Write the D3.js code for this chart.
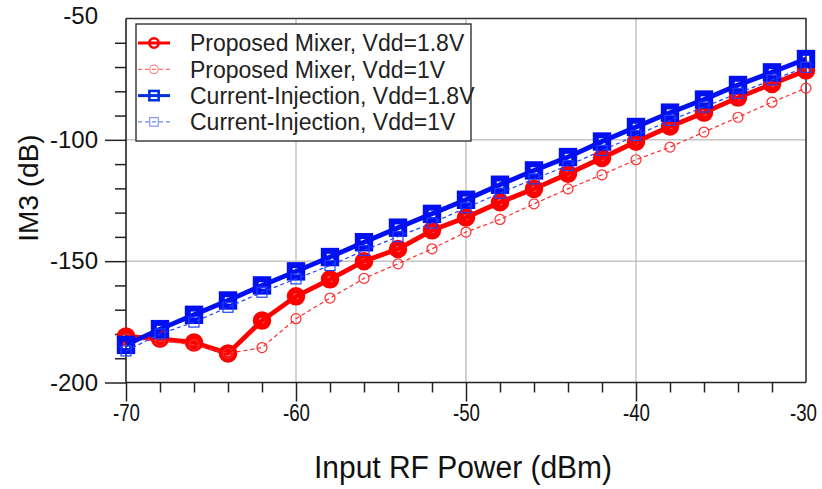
<!DOCTYPE html>
<html>
<head>
<meta charset="utf-8">
<script src="https://cdn.jsdelivr.net/npm/d3@7/dist/d3.min.js"></script>
<style>
  html, body { margin: 0; padding: 0; background: #fff; }
  svg { display: block; font-family: Arial, "Liberation Sans", sans-serif; }
</style>
</head>
<body>
<svg id="chart" width="822" height="489"></svg>
<script>
// Input RF power sweep (dBm)
const inputPower = [-70, -68, -66, -64, -62, -60, -58, -56, -54, -52, -50,
                    -48, -46, -44, -42, -40, -38, -36, -34, -32, -30];

// IM3 (dB) for each configuration
const proposed18 = [-181, -182, -183.5, -188, -174.5, -164.5, -157.5, -150, -145, -137.3, -132,
                    -125.7, -120.2, -114, -107.5, -100.8, -94.5, -88.8, -82.6, -77, -71.4];
const proposed1  = [-182, -182.7, -184.5, -188, -185.6, -173.7, -165.2, -157.1, -151.1, -144.9, -138,
                    -132.8, -126.4, -120.2, -114.4, -108.2, -103, -96.8, -90.7, -84.5, -78.7];
const ci18       = [-184.5, -178, -172.1, -166.2, -160, -154.2, -148.3, -142.2, -136.2, -130.5, -124.7,
                    -118.5, -112.6, -107.1, -100.7, -94.7, -88.8, -83.4, -77.4, -72.2, -66.7];
const ci1        = [-187, -180, -175.1, -169, -162.8, -157.3, -151.8, -145.6, -139.9, -134.3, -128,
                    -122, -116.1, -110.6, -104.4, -98.2, -92, -86.5, -80.8, -75.3, -70.1];

const seriesNames = ["Proposed Mixer, Vdd=1.8V", "Proposed Mixer, Vdd=1V",
                     "Current-Injection, Vdd=1.8V", "Current-Injection, Vdd=1V"];

// Axis ticks
const xMajorTicks = [-70, -60, -50, -40, -30];
const xMinorTicks = [-68, -66, -64, -62, -58, -56, -54, -52, -48, -46, -44, -42, -38, -36, -34, -32];
const yMajorTicks = [-200, -150, -100, -50];
const yMinorTicks = [-190, -180, -170, -160, -140, -130, -120, -110, -90, -80, -70, -60];
const xGrid = [-60, -50, -40];
const yGrid = [-150, -100];

const svg = d3.select("#chart");
const plotLeft = 126, plotRight = 806, plotTop = 18.5, plotBottom = 382.5;

const x = d3.scaleLinear().domain([-70, -30]).range([plotLeft, plotRight]);
const y = d3.scaleLinear().domain([-200, -50]).range([plotBottom, plotTop]);

// plain hyphen-minus tick labels
const fmt = d => String(d);

// grid lines
svg.append("g").selectAll("line").data(xGrid).join("line")
  .attr("x1", d => x(d)).attr("x2", d => x(d))
  .attr("y1", plotTop).attr("y2", plotBottom)
  .attr("stroke", "#c4c4c4").attr("stroke-width", 1.5);
svg.append("g").selectAll("line").data(yGrid).join("line")
  .attr("x1", plotLeft).attr("x2", plotRight)
  .attr("y1", d => y(d)).attr("y2", d => y(d))
  .attr("stroke", "#c4c4c4").attr("stroke-width", 1.5);

// frame (top and right)
svg.append("path")
  .attr("d", `M${plotLeft},${plotTop}H${plotRight}V${plotBottom}`)
  .attr("fill", "none").attr("stroke", "#333").attr("stroke-width", 1.6);

// axes
function styleAxis(g) {
  g.select(".domain").remove();
  g.selectAll(".tick line").attr("stroke", "#222").attr("stroke-width", 1.5);
  g.selectAll(".tick text").attr("fill", "#111");
}

const xAxisMajor = svg.append("g").attr("transform", `translate(0,${plotBottom})`)
  .call(d3.axisBottom(x).tickValues(xMajorTicks).tickSize(19).tickPadding(3)
    .tickFormat(fmt));
styleAxis(xAxisMajor);
xAxisMajor.selectAll(".tick text").attr("font-size", 23).attr("dy", "0.72em")
  .attr("textLength", 27).attr("lengthAdjust", "spacingAndGlyphs");
xAxisMajor.selectAll(".tick").filter(d => d === -30).select("line").remove();
xAxisMajor.selectAll(".tick").filter(d => d === -30).select("text").attr("x", -3);

const xAxisMinor = svg.append("g").attr("transform", `translate(0,${plotBottom})`)
  .call(d3.axisBottom(x).tickValues(xMinorTicks).tickSize(10).tickFormat(""));
styleAxis(xAxisMinor);

const yAxisMajor = svg.append("g").attr("transform", `translate(${plotLeft},0)`)
  .call(d3.axisLeft(y).tickValues(yMajorTicks).tickSize(21).tickPadding(7)
    .tickFormat(fmt));
styleAxis(yAxisMajor);
yAxisMajor.selectAll(".tick text").attr("font-size", 24);
yAxisMajor.selectAll(".tick").filter(d => d === -50).select("line").remove();
yAxisMajor.selectAll(".tick").filter(d => d === -50).select("text").attr("dy", "0.2em");

const yAxisMinor = svg.append("g").attr("transform", `translate(${plotLeft},0)`)
  .call(d3.axisLeft(y).tickValues(yMinorTicks).tickSize(11).tickFormat(""));
styleAxis(yAxisMinor);

// axis lines (left and bottom)
svg.append("line").attr("x1", plotLeft).attr("x2", plotRight).attr("y1", plotBottom).attr("y2", plotBottom)
  .attr("stroke", "#222").attr("stroke-width", 1.6);
svg.append("line").attr("x1", plotLeft).attr("x2", plotLeft).attr("y1", plotTop).attr("y2", plotBottom)
  .attr("stroke", "#222").attr("stroke-width", 1.6);

// axis titles
svg.append("text").attr("x", 463).attr("y", 478)
  .attr("text-anchor", "middle").attr("font-size", 31).attr("fill", "#111")
  .attr("textLength", 298).attr("lengthAdjust", "spacingAndGlyphs")
  .text("Input RF Power (dBm)");
svg.append("text").attr("transform", "translate(38,188) rotate(-90)")
  .attr("text-anchor", "middle").attr("font-size", 28).attr("fill", "#111")
  .text("IM3 (dB)");

// series definitions
const series = [
  { name: seriesNames[0], values: proposed18, color: "#ff0000", width: 4.8, dash: null, marker: "circle", r: 6, mw: 6.5 },
  { name: seriesNames[1], values: proposed1,  color: "#ff2a2a", width: 1.2, dash: "4,3", marker: "circle", r: 5, mw: 1.2 },
  { name: seriesNames[2], values: ci18,       color: "#0010f0", width: 4.8, dash: null, marker: "square", r: 6.2, mw: 6 },
  { name: seriesNames[3], values: ci1,        color: "#2040ff", width: 1.2, dash: "4,3", marker: "square", r: 5, mw: 1.2 }
];

const line = d3.line().x(d => x(d[0])).y(d => y(d[1]));

function drawMarker(g, cx, cy, s, scale) {
  const r = s.r * scale;
  if (s.marker === "circle") {
    g.append("circle").attr("cx", cx).attr("cy", cy).attr("r", r)
      .attr("fill", "none").attr("stroke", s.color).attr("stroke-width", s.mw * scale);
  } else {
    g.append("rect").attr("x", cx - r).attr("y", cy - r).attr("width", 2 * r).attr("height", 2 * r)
      .attr("fill", "none").attr("stroke", s.color).attr("stroke-width", s.mw * scale);
  }
}

const plot = svg.append("g");
series.forEach(s => {
  const pts = inputPower.map((p, i) => [p, s.values[i]]);
  const g = plot.append("g");
  g.append("path").datum(pts).attr("d", line)
    .attr("fill", "none").attr("stroke", s.color).attr("stroke-width", s.width)
    .attr("stroke-linejoin", "round")
    .attr("stroke-dasharray", s.dash);
  pts.forEach(p => drawMarker(g, x(p[0]), y(p[1]), s, 1));
});

// legend
const legend = svg.append("g");
legend.append("rect").attr("x", 136).attr("y", 24).attr("width", 335).attr("height", 117)
  .attr("fill", "#fff").attr("stroke", "#333").attr("stroke-width", 1.4);
const legendColors = ["#ff0000", "#ff7070", "#0030e0", "#6a86f0"];
series.forEach((s, i) => {
  const cy = 43 + i * 26.3;
  const thick = s.width > 2;
  const ls = Object.assign({}, s, { color: legendColors[i], mw: thick ? 3 : 1.2, r: thick ? 5.5 : 5 });
  legend.append("line").attr("x1", 138).attr("x2", 170).attr("y1", cy).attr("y2", cy)
    .attr("stroke", ls.color).attr("stroke-width", thick ? 3 : 1.2)
    .attr("stroke-dasharray", s.dash);
  drawMarker(legend, 154, cy, ls, 0.85);
  legend.append("text").attr("x", 190).attr("y", cy).attr("dy", "0.36em")
    .attr("font-size", 23).attr("fill", "#222").text(s.name);
});
</script>
</body>
</html>
